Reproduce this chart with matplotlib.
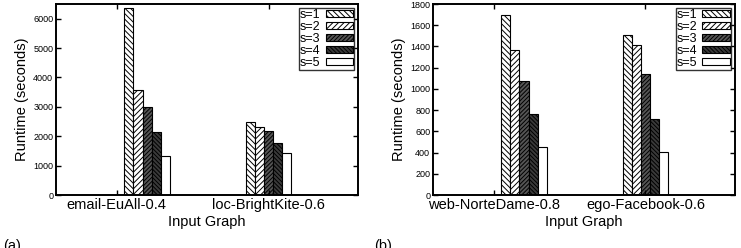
import numpy as np
import matplotlib
matplotlib.use("Agg")
import matplotlib.pyplot as plt

# --- data ---
series_labels = ["s=1", "s=2", "s=3", "s=4", "s=5"]

graphs_a = ["email-EuAll-0.4", "loc-BrightKite-0.6"]
runtime_a = [
    [6370, 2490],   # s=1
    [3570, 2300],   # s=2
    [3000, 2185],   # s=3
    [2130, 1780],   # s=4
    [1325, 1415],   # s=5
]

graphs_b = ["web-NorteDame-0.8", "ego-Facebook-0.6"]
runtime_b = [
    [1695, 1512],
    [1367, 1410],
    [1074, 1137],
    [760, 713],
    [449, 402],
]

# --- styling ---
plt.rcParams["font.family"] = ["Liberation Sans", "DejaVu Sans"]
plt.rcParams["hatch.linewidth"] = 0.7

faces = ["white", "white", "#555555", "#3a3a3a", "white"]
hatches = ["\\\\\\\\\\\\", "//////", "////////", "\\\\\\\\\\\\\\\\", ""]
bar_w = 0.06
group_shift = [0.2, 0.0]   # bar groups sit oddly relative to the ticks, as in the original


def draw_panel(ax, graphs, runtime, ymax, ystep, ytop):
    x = np.arange(len(graphs)) + np.array(group_shift)
    n = len(runtime)
    for i, vals in enumerate(runtime):
        ax.bar(x + (i - (n - 1) / 2) * bar_w, vals, bar_w,
               color=faces[i], edgecolor="black", hatch=hatches[i],
               linewidth=0.8, label=series_labels[i])
    ax.set_xlim(-0.4, 1.59)
    ax.set_ylim(0, ytop)
    ax.set_xticks(np.arange(len(graphs)))
    ax.set_xticklabels(graphs, fontsize=10.5)
    ax.set_yticks(np.arange(0, ymax + 1, ystep))
    ax.tick_params(axis="y", labelsize=6.5)
    ax.tick_params(direction="in", top=True, right=True, length=3.5, width=1, pad=2)
    for sp in ax.spines.values():
        sp.set_linewidth(1.4)
    ax.set_xlabel("Input Graph", fontsize=10.5, labelpad=2)
    ax.set_ylabel("Runtime (seconds)", fontsize=10.5, labelpad=3)
    leg = ax.legend(loc="upper right", markerfirst=False, fontsize=9,
                    frameon=True, fancybox=False, edgecolor="black",
                    handlelength=2.2, handleheight=0.45, labelspacing=0.0,
                    borderpad=0.1, handletextpad=0.4, borderaxespad=0.3)
    leg.get_frame().set_linewidth(1.0)


fig = plt.figure(figsize=(7.41, 2.48), dpi=100)
ax1 = fig.add_axes([0.0756, 0.2137, 0.4076, 0.770])
ax2 = fig.add_axes([0.5843, 0.2137, 0.4076, 0.770])

draw_panel(ax1, graphs_a, runtime_a, 6000, 1000, 6500)
draw_panel(ax2, graphs_b, runtime_b, 1800, 200, 1800)

# panel tags, cut off by the bottom edge as in the original
fig.text(0.004, 0.035, "(a)", fontsize=10.5, va="top")
fig.text(0.505, 0.035, "(b)", fontsize=10.5, va="top")

fig.savefig("out.png", dpi=100)
